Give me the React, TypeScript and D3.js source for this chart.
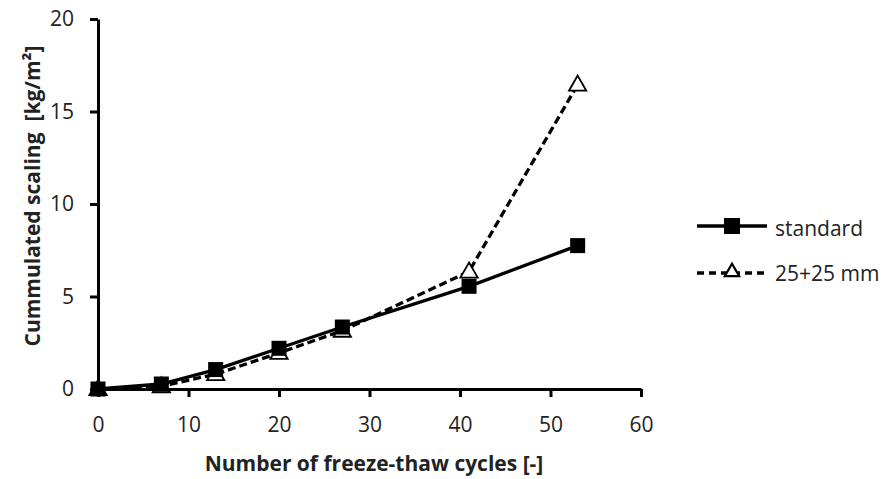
import React, {useEffect, useRef} from "react";
import * as d3 from "d3";

const cycles = [0, 7, 13, 20, 27, 41, 53]
const standard = [0, 0.27, 1.05, 2.2, 3.35, 5.55, 7.75]
const split = [0, 0.15, 0.8, 1.95, 3.15, 6.35, 16.45]
const xTicks = [0, 10, 20, 30, 40, 50, 60]
const yTicks = [0, 5, 10, 15, 20]
const seriesNames = ["standard", "25+25 mm"]

const W = 889, H = 479
const FONT = "'Open Sans', 'Noto Sans', sans-serif"

const App = () => {
    const ref = useRef<SVGSVGElement>(null)

    useEffect(() => {
        const svg = d3.select(ref.current)
        svg.selectAll("*").remove()

        const x = d3.scaleLinear().domain([0, 60]).range([98, 641])
        const y = d3.scaleLinear().domain([0, 20]).range([389, 19])

        // axes
        const xAxis = svg.append("g")
            .attr("transform", `translate(0, ${y(0)})`)
            .call(d3.axisBottom(x).tickValues(xTicks).tickSize(8).tickSizeOuter(0).tickPadding(20))
        const yAxis = svg.append("g")
            .attr("transform", `translate(${x(0)}, 0)`)
            .call(d3.axisLeft(y).tickValues(yTicks).tickSize(8).tickSizeOuter(0).tickPadding(16))

        for (const ax of [xAxis, yAxis]) {
            ax.attr("font-size", null).attr("font-family", null)
            ax.select(".domain").attr("stroke", "#000").attr("stroke-width", 3)
            ax.selectAll(".tick line").attr("stroke", "#000").attr("stroke-width", 3)
            ax.selectAll(".tick text")
                .attr("fill", "#222")
                .style("font-family", FONT)
                .style("font-size", "21px")
        }

        svg.append("text")
            .attr("x", 374).attr("y", 471)
            .attr("text-anchor", "middle")
            .style("font-family", FONT).style("font-size", "21px").style("font-weight", "bold")
            .attr("fill", "#222")
            .text("Number of freeze-thaw cycles [-]")

        svg.append("text")
            .attr("transform", `translate(40, 196) rotate(-90)`)
            .attr("text-anchor", "middle")
            .style("font-family", FONT).style("font-size", "21px").style("font-weight", "bold")
            .style("white-space", "pre")
            .attr("fill", "#222")
            .text("Cummulated scaling  [kg/m²]")

        const line = d3.line<number>()
            .x((_, i) => x(cycles[i]))
            .y(d => y(d))

        const tri = d3.symbol().type(d3.symbolTriangle).size(130)
        const triSmall = d3.symbol().type(d3.symbolTriangle).size(90)

        // dashed series
        svg.append("path")
            .datum(split)
            .attr("fill", "none")
            .attr("stroke", "#000")
            .attr("stroke-width", 3.3)
            .attr("stroke-dasharray", "8,4")
            .attr("d", line)

        svg.append("path")
            .datum(standard)
            .attr("fill", "none")
            .attr("stroke", "#000")
            .attr("stroke-width", 3.3)
            .attr("d", line)

        svg.selectAll(".tri")
            .data(split)
            .enter().append("path")
            .attr("transform", (d, i) => `translate(${x(cycles[i])}, ${y(d) + 1})`)
            .attr("d", tri)
            .attr("fill", "#fff")
            .attr("stroke", "#000")
            .attr("stroke-width", 1.8)

        svg.selectAll(".sq")
            .data(standard)
            .enter().append("rect")
            .attr("x", (_, i) => x(cycles[i]) - 7.5)
            .attr("y", d => y(d) - 7.5)
            .attr("width", 15).attr("height", 15)
            .attr("fill", "#000")

        // legend
        const lg = svg.append("g")
        lg.append("line").attr("x1", 697).attr("x2", 767).attr("y1", 226).attr("y2", 226)
            .attr("stroke", "#000").attr("stroke-width", 3.3)
        lg.append("rect").attr("x", 724).attr("y", 218).attr("width", 16).attr("height", 16).attr("fill", "#000")
        lg.append("line").attr("x1", 697).attr("x2", 767).attr("y1", 273).attr("y2", 273)
            .attr("stroke", "#000").attr("stroke-width", 3.3).attr("stroke-dasharray", "7,5")
        lg.append("path").attr("transform", "translate(732, 272)").attr("d", triSmall)
            .attr("fill", "#fff").attr("stroke", "#000").attr("stroke-width", 2.2)
        seriesNames.forEach((name, i) => {
            lg.append("text")
                .attr("x", 775).attr("y", 236 + i * 45)
                .style("font-family", FONT).style("font-size", "21px")
                .attr("fill", "#222")
                .text(name)
        })
    }, [])

    return <svg ref={ref} width={W} height={H}
                style={{position: "absolute", left: 0, top: 0, background: "#fff"}}/>
}

export default App
